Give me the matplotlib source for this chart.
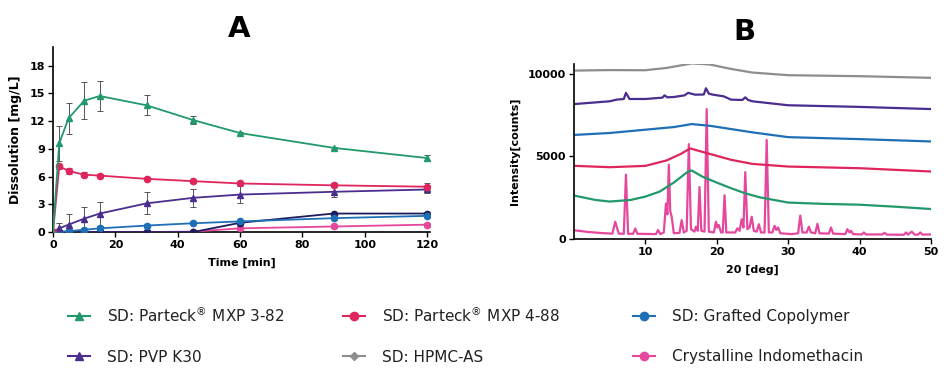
import numpy as np
import matplotlib
matplotlib.use("Agg")
from matplotlib import pyplot as plt
from matplotlib.lines import Line2D

# Panel A: dissolution data
time = [0, 2, 5, 10, 15, 30, 45, 60, 90, 120]

mxp382 = [0, 9.6, 12.3, 14.2, 14.7, 13.7, 12.1, 10.7, 9.1, 8.0]
mxp382_err = [0, 1.9, 1.7, 2.0, 1.65, 1.1, 0.45, 0.1, 0.1, 0.35]

mxp488 = [0, 7.1, 6.6, 6.2, 6.1, 5.75, 5.5, 5.25, 5.05, 4.9]
mxp488_err = [0, 0.3, 0.3, 0.3, 0.2, 0.15, 0.15, 0.2, 0.2, 0.4]

pvp = [0, 0.4, 0.8, 1.45, 2.0, 3.1, 3.7, 4.05, 4.35, 4.6]
pvp_err = [0, 0.6, 1.1, 1.25, 1.3, 1.2, 1.0, 0.9, 0.6, 0.4]

grafted = [0, 0.05, 0.1, 0.25, 0.4, 0.7, 0.95, 1.15, 1.5, 1.75]
grafted_err = [0, 0.1, 0.1, 0.15, 0.3, 0.15, 0.1, 0.15, 0.1, 0.15]

hpmcas = [0, 0, 0, 0, 0, 0, 0, 1.0, 2.0, 2.0]

crystalline = [0, 0, 0, 0, 0, 0, 0.05, 0.4, 0.6, 0.8]
crystalline_err = [0, 0, 0, 0, 0, 0, 0.05, 0.1, 0.15, 0.15]

# Panel B: XRD patterns (2theta, counts)
xrd_hpmcas = [(0.3, 10200), (5, 10230), (10, 10220), (13, 10360), (16.5, 10630),
              (19, 10570), (22, 10300), (25, 10080), (30, 9920), (40, 9860), (50, 9760)]
xrd_pvp = [(0.3, 8180), (5, 8340), (6, 8440), (7.0, 8480), (7.3, 8850), (7.8, 8480),
           (10, 8480), (12.4, 8560), (12.7, 8700), (13.1, 8580), (14, 8600), (15.5, 8700),
           (16, 8850), (17, 8740), (18.2, 8750), (18.5, 9130), (18.9, 8800), (19.5, 8740),
           (21, 8640), (22, 8440), (23.6, 8420), (24, 8580), (24.4, 8420), (25, 8340),
           (30, 8100), (40, 8000), (50, 7870)]
xrd_grafted = [(0.3, 6310), (5, 6420), (10, 6620), (14, 6780), (16.5, 6960), (19, 6860),
               (22, 6660), (25, 6460), (30, 6170), (40, 6050), (50, 5910)]
xrd_mxp488 = [(0.3, 4430), (5, 4350), (10, 4430), (13, 4760), (15, 5160), (16.3, 5490),
              (17, 5400), (19, 5160), (22, 4800), (25, 4550), (30, 4390), (40, 4290), (50, 4090)]
xrd_mxp382 = [(0.3, 2610), (3, 2370), (5, 2270), (8, 2370), (10, 2570), (12, 2870), (14, 3420),
              (16, 4090), (16.5, 4150), (18, 3780), (20, 3420), (22, 3080), (24, 2770),
              (26, 2530), (28, 2370), (30, 2210), (35, 2130), (40, 2080), (45, 1960), (50, 1820)]
xrd_crystalline = [
    (0.3, 520), (2, 430), (4, 360), (5.4, 330), (5.8, 1050), (6.0, 750), (6.3, 330),
    (7.0, 320), (7.3, 3900), (7.6, 320),
    (8.3, 320), (8.6, 640), (8.9, 320),
    (11.5, 300), (11.8, 550), (12.1, 300),
    (12.6, 400), (12.9, 2150), (13.1, 1500), (13.3, 4500), (13.5, 1700), (13.7, 1350), (14.0, 350),
    (14.8, 380), (15.1, 1150), (15.4, 400),
    (15.8, 500), (16.1, 5750), (16.4, 600),
    (16.9, 450), (17.1, 750), (17.35, 500), (17.6, 3150), (17.85, 500),
    (18.3, 450), (18.6, 7870), (18.9, 450),
    (19.6, 400), (19.9, 1050), (20.1, 700), (20.3, 850), (20.6, 400),
    (20.85, 400), (21.1, 2650), (21.35, 400),
    (22.6, 400), (22.9, 650), (23.2, 500), (23.5, 1200), (23.75, 700), (24.0, 4050),
    (24.3, 600), (24.6, 700), (24.9, 1350), (25.2, 500),
    (25.6, 450), (25.9, 900), (26.2, 400),
    (26.7, 400), (27.0, 6000), (27.3, 400),
    (27.8, 400), (28.1, 800), (28.35, 550), (28.6, 700), (28.9, 350),
    (30.5, 300), (31.4, 350), (31.7, 1420), (32.0, 400),
    (32.6, 400), (32.9, 750), (33.2, 400),
    (33.8, 350), (34.1, 920), (34.4, 350),
    (35.7, 330), (36.0, 700), (36.3, 330),
    (38.0, 300), (38.3, 600), (38.6, 400), (38.8, 500), (39.1, 300),
    (40.3, 280), (40.6, 400), (40.9, 280),
    (43.2, 280), (43.5, 380), (43.8, 270),
    (46.2, 260), (46.5, 400), (46.8, 270), (47.3, 450), (47.7, 270),
    (48.2, 270), (48.5, 400), (48.8, 270), (50, 280),
]

# legend entries: (colour, marker, label) per column, two rows each
reg = r'$^{\circledR}$'

# colours
GREEN = '#21996a'
RED = '#e0245c'
PURPLE = '#4b2d8f'
GREY = '#8e8e8e'
BLUE = '#1f6fb6'
PINK = '#e5479d'
NAVY = '#1c1c5e'

legend_cols = [
    [(GREEN, '^', 'SD: Parteck' + reg + ' MXP 3-82'), (PURPLE, '^', 'SD: PVP K30')],
    [(RED, 'o', 'SD: Parteck' + reg + ' MXP 4-88'), (GREY, 'D', 'SD: HPMC-AS')],
    [(BLUE, 'o', 'SD: Grafted Copolymer'), (PINK, 'o', 'Crystalline Indomethacin')],
]

plt.rcParams['font.family'] = 'DejaVu Sans'

fig = plt.figure(figsize=(9.5, 3.9), dpi=100)

# ---------------- Panel A ----------------
axA = fig.add_axes([0.0558, 0.405, 0.397, 0.4745])

def dissolution(ax, y, err, color, marker, ms=4.5):
    ax.plot(time, y, color=color, lw=1.3, marker=marker, ms=ms, zorder=3)
    if err is not None:
        ax.errorbar(time, y, yerr=err, fmt='none', ecolor='#555555',
                    elinewidth=0.7, capsize=2.5, capthick=0.7, zorder=2)

dissolution(axA, crystalline, crystalline_err, PINK, 'o')
dissolution(axA, hpmcas, None, NAVY, 'o')
dissolution(axA, grafted, grafted_err, BLUE, 'o')
dissolution(axA, pvp, pvp_err, PURPLE, '^')
dissolution(axA, mxp488, mxp488_err, RED, 'o')
dissolution(axA, mxp382, mxp382_err, GREEN, '^')

axA.set_xlim(0, 121)
axA.set_ylim(0, 20)
axA.set_xticks([0, 20, 40, 60, 80, 100, 120])
axA.set_yticks([0, 3, 6, 9, 12, 15, 18])
axA.set_xlabel('Time [min]', fontsize=8, fontweight='bold', labelpad=6)
axA.set_ylabel('Dissolution [mg/L]', fontsize=9, fontweight='bold', labelpad=6)
axA.text(0.493, 1.095, 'A', transform=axA.transAxes, ha='center', va='center',
         fontsize=21, fontweight='bold')

# ---------------- Panel B ----------------
axB = fig.add_axes([0.604, 0.387, 0.376, 0.449])

for pts, color in [(xrd_crystalline, PINK), (xrd_mxp382, GREEN), (xrd_mxp488, RED),
                   (xrd_grafted, BLUE), (xrd_pvp, PURPLE), (xrd_hpmcas, GREY)]:
    xs, ys = zip(*pts)
    axB.plot(xs, ys, color=color, lw=1.6)

axB.set_xlim(0, 50)
axB.set_ylim(0, 10600)
axB.set_xticks([10, 20, 30, 40, 50])
axB.set_yticks([0, 5000, 10000])
axB.set_xlabel('20 [deg]', fontsize=8, fontweight='bold', labelpad=6)
axB.set_ylabel('Intensity[counts]', fontsize=8, fontweight='bold', labelpad=6)
axB.text(0.479, 1.18, 'B', transform=axB.transAxes, ha='center', va='center',
         fontsize=21, fontweight='bold')

for ax in (axA, axB):
    for s in ('top', 'right'):
        ax.spines[s].set_visible(False)
    for s in ('left', 'bottom'):
        ax.spines[s].set_linewidth(1.2)
    ax.tick_params(labelsize=8, width=1, length=3.5, pad=2)
    for lab in ax.get_xticklabels() + ax.get_yticklabels():
        lab.set_fontweight('bold')

# ---------------- Legend (drawn by hand for exact placement) ----------------
col_x = [68 / 950, 343 / 950, 633 / 950]
row_y = [1 - 316 / 390, 1 - 356 / 390]
handle_w = 22 / 950
text_gap = 17 / 950
for x0, entries in zip(col_x, legend_cols):
    for y0, (c, m, label) in zip(row_y, entries):
        fig.add_artist(Line2D([x0, x0 + handle_w], [y0, y0], transform=fig.transFigure,
                              color=c, lw=1.5))
        fig.add_artist(Line2D([x0 + handle_w / 2], [y0], transform=fig.transFigure,
                              color=c, marker=m, ms=6 if m != 'D' else 4.5, lw=0))
        fig.text(x0 + handle_w + text_gap, y0 - 5.5 / 390, label, fontsize=11,
                 ha='left', va='baseline', color='#222222')

fig.savefig('out.png', dpi=100)
